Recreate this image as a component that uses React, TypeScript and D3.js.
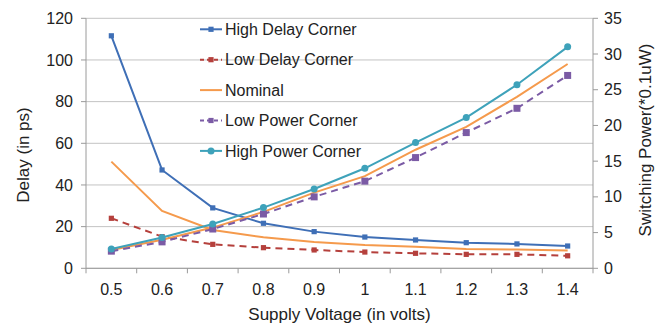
import React from "react";
import * as d3 from "d3";

// Supply voltage categories (volts)
const voltages = ["0.5", "0.6", "0.7", "0.8", "0.9", "1", "1.1", "1.2", "1.3", "1.4"];

// Delay series (ps), left axis
const highDelayCorner = [111.6, 47.2, 29.0, 21.6, 17.6, 15.0, 13.6, 12.3, 11.7, 10.7];
const lowDelayCorner = [24.0, 15.2, 11.5, 9.9, 8.8, 7.8, 7.2, 6.7, 6.7, 6.0];
const nominalDelay = [51.2, 27.5, 18.4, 14.9, 12.6, 11.2, 10.4, 9.3, 9.0, 8.5];

// Switching power series (*0.1uW), right axis
const nominalPower = [2.55, 4.0, 5.7, 7.9, 10.6, 12.9, 16.6, 19.8, 24.0, 28.6];
const lowPowerCorner = [2.4, 3.7, 5.5, 7.6, 10.0, 12.2, 15.5, 19.0, 22.4, 27.0];
const highPowerCorner = [2.7, 4.3, 6.2, 8.5, 11.1, 14.0, 17.6, 21.1, 25.7, 31.0];

const delayTicks = [0, 20, 40, 60, 80, 100, 120];
const powerTicks = [0, 5, 10, 15, 20, 25, 30, 35];

const legendNames = [
  "High Delay Corner",
  "Low Delay Corner",
  "Nominal",
  "Low Power Corner",
  "High Power Corner",
];

type Marker = "none" | "square" | "bigSquare" | "circle";
interface SeriesDef {
  name: string;
  values: number[];
  axis: "delay" | "power";
  color: string;
  dash?: string;
  marker: Marker;
}

const BLUE = "#3f6fb6";
const RED = "#b5403c";
const ORANGE = "#f59a4c";
const PURPLE = "#7b5ba5";
const TEAL = "#3ea2ba";

const series: SeriesDef[] = [
  { name: legendNames[0], values: highDelayCorner, axis: "delay", color: BLUE, marker: "square" },
  { name: legendNames[1], values: lowDelayCorner, axis: "delay", color: RED, dash: "7,5", marker: "square" },
  { name: legendNames[2], values: nominalDelay, axis: "delay", color: ORANGE, marker: "none" },
  { name: legendNames[2], values: nominalPower, axis: "power", color: ORANGE, marker: "none" },
  { name: legendNames[3], values: lowPowerCorner, axis: "power", color: PURPLE, dash: "7,5", marker: "bigSquare" },
  { name: legendNames[4], values: highPowerCorner, axis: "power", color: TEAL, marker: "circle" },
];

const legendStyles: { color: string; dash?: string; marker: Marker }[] = [
  { color: BLUE, marker: "square" },
  { color: RED, dash: "4,3", marker: "square" },
  { color: ORANGE, marker: "none" },
  { color: PURPLE, dash: "4,3", marker: "bigSquare" },
  { color: TEAL, marker: "circle" },
];

const W = 669;
const H = 327;
const FONT = "Liberation Sans, Arial, sans-serif";
const left = 86;
const right = 593;
const top = 18.3;
const bottom = 268.3;

function drawMarker(m: Marker, x: number, y: number, color: string, key: string | number) {
  if (m === "square") return <rect key={key} x={x - 2.6} y={y - 2.6} width={5.2} height={5.2} fill={color} />;
  if (m === "bigSquare") return <rect key={key} x={x - 3.5} y={y - 3.5} width={7} height={7} fill={color} />;
  if (m === "circle") return <circle key={key} cx={x} cy={y} r={3.5} fill={color} />;
  return null;
}

export default function App() {
  const x = d3.scaleBand<string>().domain(voltages).range([left, right]).padding(0);
  const yDelay = d3.scaleLinear().domain([0, 120]).range([bottom, top]);
  const yPower = d3.scaleLinear().domain([0, 35]).range([bottom, top]);
  const cx = (v: string) => (x(v) ?? 0) + x.bandwidth() / 2;

  const legendX = 200;
  const legendY0 = 29.3;
  const legendStep = 30.4;

  return (
    <svg width={W} height={H} style={{ position: "absolute", left: 0, top: 0, background: "#fff" }} fontFamily={FONT}>
      {/* horizontal gridlines */}
      {delayTicks.map((t) => (
        <line key={"g" + t} x1={left} x2={right} y1={yDelay(t)} y2={yDelay(t)} stroke="#c3c3c3" strokeWidth={1} />
      ))}
      {/* axes */}
      <line x1={left} x2={left} y1={top} y2={bottom} stroke="#9a9a9a" />
      <line x1={right} x2={right} y1={top} y2={bottom} stroke="#9a9a9a" />
      <line x1={left} x2={right} y1={bottom} y2={bottom} stroke="#9a9a9a" />
      {/* left ticks */}
      {delayTicks.map((t) => (
        <g key={"l" + t}>
          <line x1={left - 5} x2={left} y1={yDelay(t)} y2={yDelay(t)} stroke="#9a9a9a" />
          <text x={left - 13} y={yDelay(t)} dy="0.35em" textAnchor="end" fontSize={16} fill="#222">
            {t}
          </text>
        </g>
      ))}
      {/* right ticks */}
      {powerTicks.map((t) => (
        <g key={"r" + t}>
          <line x1={right} x2={right + 5} y1={yPower(t)} y2={yPower(t)} stroke="#9a9a9a" />
          <text x={right + 11} y={yPower(t)} dy="0.35em" textAnchor="start" fontSize={16} fill="#222">
            {t}
          </text>
        </g>
      ))}
      {/* category ticks */}
      {[...voltages.map((v) => x(v) ?? 0), right].map((px, i) => (
        <line key={"xt" + i} x1={px} x2={px} y1={bottom} y2={bottom + 5} stroke="#9a9a9a" />
      ))}
      {voltages.map((v) => (
        <text key={"xl" + v} x={cx(v)} y={295} textAnchor="middle" fontSize={16} fill="#222">
          {v}
        </text>
      ))}
      {/* axis titles */}
      <text x={339.5} y={320} textAnchor="middle" fontSize={17} fill="#222">
        Supply Voltage (in volts)
      </text>
      <text transform={`translate(29,155) rotate(-90)`} textAnchor="middle" fontSize={17} fill="#222">
        Delay (in ps)
      </text>
      <text transform={`translate(651,140) rotate(-90)`} textAnchor="middle" fontSize={17} fill="#222">
        Switching Power(*0.1uW)
      </text>
      {/* series */}
      {series.map((s, si) => {
        const yScale = s.axis === "delay" ? yDelay : yPower;
        const line = d3
          .line<number>()
          .x((_, i) => cx(voltages[i]))
          .y((d) => yScale(d));
        return (
          <g key={"s" + si}>
            <path d={line(s.values) ?? ""} fill="none" stroke={s.color} strokeWidth={2} strokeDasharray={s.dash} />
            {s.values.map((d, i) => drawMarker(s.marker, cx(voltages[i]), yScale(d), s.color, i))}
          </g>
        );
      })}
      {/* legend */}
      {legendNames.map((n, i) => {
        const st = legendStyles[i];
        const y = legendY0 + i * legendStep;
        return (
          <g key={"lg" + i}>
            <line x1={legendX} x2={legendX + 22} y1={y} y2={y} stroke={st.color} strokeWidth={2} strokeDasharray={st.dash} />
            {drawMarker(st.marker === "bigSquare" ? "square" : st.marker, legendX + 11, y, st.color, "m")}
            <text x={legendX + 25} y={y} dy="0.35em" fontSize={16} fill="#222">
              {n}
            </text>
          </g>
        );
      })}
    </svg>
  );
}
